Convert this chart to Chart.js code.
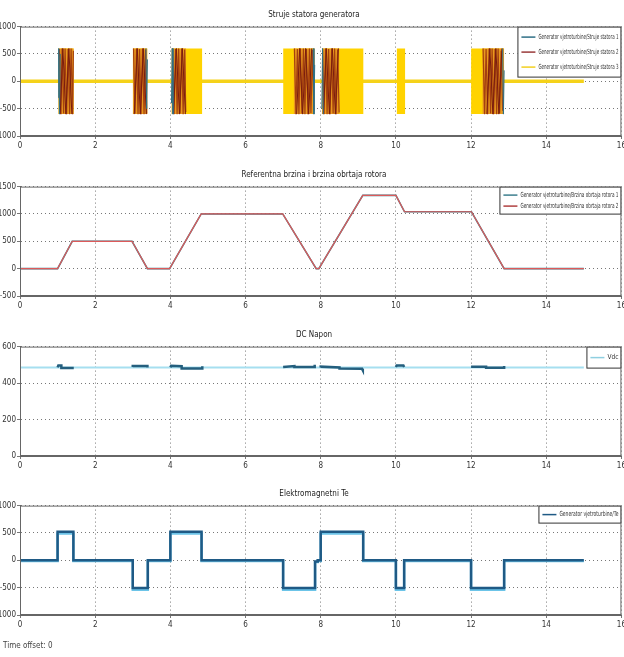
<!DOCTYPE html>
<html>
<head>
<meta charset="utf-8">
<script src="https://cdn.jsdelivr.net/npm/chart.js@4.4.1/dist/chart.umd.min.js"></script>
<style>
  html, body { margin: 0; background: #fff; overflow: hidden; }
  .panel { position: absolute; left: 0; width: 624px; height: 160px; overflow: hidden; }
  #offset { position: absolute; left: 3px; top: 641px; font: 8px 'Liberation Sans Narrow', 'DejaVu Sans Condensed', sans-serif; color: #444; }
</style>
</head>
<body>
<div class="panel" style="top:0px"><canvas id="c1" width="628" height="160"></canvas></div>
<div class="panel" style="top:160px"><canvas id="c2" width="628" height="160"></canvas></div>
<div class="panel" style="top:320px"><canvas id="c3" width="628" height="160"></canvas></div>
<div class="panel" style="top:479px"><canvas id="c4" width="628" height="160"></canvas></div>
<div id="offset">Time offset:  0</div>
<script>
// --- naslovi i legende
const titles = ['Struje statora generatora', 'Referentna brzina i brzina obrtaja rotora', 'DC Napon', 'Elektromagnetni Te'];
const statorLabels = ['Generator vjetroturbine/Struje statora 1', 'Generator vjetroturbine/Struje statora 2', 'Generator vjetroturbine/Struje statora 3'];
const speedLabels = ['Generator vjetroturbine/Brzina obrtaja rotora 1', 'Generator vjetroturbine/Brzina obrtaja rotora 2'];
const vdcLabel = 'Vdc';
const teLabel = 'Generator vjetroturbine/Te';

// --- 1. struje statora (intervali prelaza, [pocetak, kraj])
const burstRanges = [[1.02, 1.43], [3.0, 3.39], [4.03, 4.85], [7.0, 7.84], [8.03, 9.14], [10.02, 10.25], [12.0, 12.88]];
const orangeRanges = [[1.02, 1.43], [3.0, 3.39], [4.03, 4.42], [7.28, 7.84], [8.03, 8.5], [12.3, 12.88]];
const burstPeak = 600;
const baselineT = [0, 15];
const baselineV = [0, 0];
// faza 2 (smedje pruge)
const phase2 = [
  [[1.05, 590], [1.09, -600], [1.12, 600], [1.16, -590], [1.2, 600], [1.24, -600], [1.28, 590], [1.32, -600], [1.36, 600], [1.4, -600], [1.42, 560]],
  [[3.02, 600], [3.06, -590], [3.1, 600], [3.14, -600], [3.18, 590], [3.22, -600], [3.26, 600], [3.3, -600], [3.34, 580], [3.37, -590]],
  [[4.06, 600], [4.1, -600], [4.14, 590], [4.18, -600], [4.22, 600], [4.26, -590], [4.3, 600], [4.34, -600], [4.38, 580], [4.41, -560]],
  [[7.3, 600], [7.34, -600], [7.38, 590], [7.42, -600], [7.46, 600], [7.5, -590], [7.54, 600], [7.58, -600], [7.62, 590], [7.66, -600], [7.7, 600], [7.74, -580], [7.78, 570], [7.82, -540]],
  [[8.05, 560], [8.09, -600], [8.13, 600], [8.17, -600], [8.21, 590], [8.25, -600], [8.29, 600], [8.33, -590], [8.37, 600], [8.41, -600], [8.45, 580], [8.49, -570]],
  [[12.32, 600], [12.36, -600], [12.4, 590], [12.44, -600], [12.48, 600], [12.52, -590], [12.56, 600], [12.6, -600], [12.64, 590], [12.68, -600], [12.72, 600], [12.76, -580], [12.8, 560], [12.84, -540]]
];
// faza 2b (tamnocrvene pruge)
const phase2b = [
  [[1.07, -600], [1.14, 600], [1.22, -600], [1.3, 600], [1.38, -600]],
  [[3.04, -600], [3.12, 600], [3.2, -600], [3.28, 600], [3.36, -600]],
  [[4.08, -600], [4.16, 600], [4.24, -600], [4.32, 600], [4.4, -600]],
  [[7.36, -600], [7.44, 600], [7.52, -600], [7.6, 600], [7.68, -600], [7.76, 600]],
  [[8.07, -600], [8.15, 600], [8.23, -600], [8.31, 600], [8.39, -600], [8.47, 600]],
  [[12.42, -600], [12.5, 600], [12.58, -600], [12.66, 600], [12.74, -600], [12.82, 600]]
];
// faza 1 (plave ivice)
const phase1 = [
  [[1.02, -300], [1.03, 600], [1.05, -600], [1.07, 500]],
  [[3.35, 600], [3.37, -500], [3.39, 400]],
  [[4.03, -400], [4.05, 600], [4.07, -600]],
  [[7.8, 600], [7.82, -600], [7.84, 300]],
  [[8.03, -500], [8.05, 600], [8.07, -600]],
  [[12.84, 600], [12.86, -600], [12.88, 200]]
];

// --- 2. brzina
const speedT = [0, 1.0, 1.39, 2.98, 3.39, 3.98, 4.82, 6.99, 7.88, 7.95, 9.12, 10.0, 10.23, 12.01, 12.88, 15.0];
const speedRef = [0, 0, 500, 500, 0, 0, 1000, 1000, 0, 0, 1340, 1340, 1040, 1040, 0, 0];
const speedRotor = [0, 0, 500, 500, 0, 0, 1000, 1000, 0, 0, 1340, 1340, 1040, 1040, 0, 0];

// --- 3. DC napon
const vdcT = [0, 15];
const vdcV = [486, 486];
const vdcRipple = [
  [[1.0, 486], [1.02, 497], [1.1, 497], [1.1, 482], [1.43, 482]],
  [[3.0, 488], [3.0, 493], [3.39, 493], [3.39, 486]],
  [[4.0, 486], [4.02, 495], [4.3, 492], [4.3, 480], [4.85, 480], [4.85, 492]],
  [[7.0, 488], [7.3, 493], [7.3, 488], [7.84, 488], [7.84, 500]],
  [[8.0, 486], [8.0, 490], [8.5, 486], [8.5, 480], [9.1, 478], [9.12, 470]],
  [[10.0, 488], [10.02, 496], [10.2, 496], [10.22, 488]],
  [[12.0, 490], [12.4, 490], [12.4, 484], [12.88, 484], [12.88, 494]]
];

// --- 4. elektromagnetni moment
const teT = [0, 1.0, 1.42, 3.0, 3.4, 4.0, 4.83, 7.0, 7.85, 7.92, 8.0, 9.13, 10.0, 10.22, 12.0, 12.88, 15.0];
const teDark = [0, 520, 0, -505, 0, 520, 0, -505, -20, 0, 520, 0, -505, 0, -505, 0, 0];
const teLight = [-15, 490, -15, -540, -15, 490, -15, -540, -30, -15, 490, -15, -540, -15, -540, -15, -15];

const FONT = "'Liberation Sans Narrow', 'DejaVu Sans Condensed', 'Liberation Sans', sans-serif";
Chart.defaults.font.family = FONT;
Chart.defaults.font.size = 8;
Chart.defaults.color = '#333';

const xy = (t, v) => t.map((x, i) => ({ x, y: v[i] }));
const pieces = list => {
  const out = [];
  list.forEach((seg, k) => {
    if (k) out.push({ x: seg[0][0], y: null });
    seg.forEach(p => out.push({ x: p[0], y: p[1] }));
  });
  return out;
};
const boxes = (ranges, top) => pieces(ranges.map(r => [[r[0], top], [r[1], top]]));

// okvir + legenda u uglu
const frameLegend = {
  id: 'frameLegend',
  afterDatasetsDraw(chart, args, opts) {
    const a = chart.chartArea, ctx = chart.ctx;
    ctx.save();
    ctx.setLineDash([]);
    ctx.strokeStyle = '#666';
    ctx.lineWidth = 1;
    ctx.strokeRect(a.left + 0.5, a.top + 0.5, a.right - a.left - 1, a.bottom - a.top - 1);
    const items = chart.data.datasets.filter(d => d.label);
    if (items.length) {
      const w = opts.width, rowH = opts.rowH, h = items.length * rowH + 6;
      const x = a.right - w, y = a.top;
      ctx.fillStyle = '#fff';
      ctx.fillRect(x, y, w, h);
      ctx.strokeStyle = '#333';
      ctx.strokeRect(x + 0.5, y + 0.5, w - 1, h - 1);
      ctx.font = '7px ' + FONT;
      ctx.textBaseline = 'middle';
      items.forEach((d, i) => {
        const cy = y + 3 + rowH * (i + 0.5);
        ctx.strokeStyle = d.legendColor || d.borderColor;
        ctx.lineWidth = 1.5;
        ctx.beginPath();
        ctx.moveTo(x + 4, cy);
        ctx.lineTo(x + 18, cy);
        ctx.stroke();
        ctx.fillStyle = '#333';
        ctx.fillText(d.label, x + 21, cy, w - 24);
      });
    }
    ctx.restore();
  }
};

function makeChart(id, title, datasets, yMin, yMax, yStep, legend) {
  return new Chart(document.getElementById(id), {
    type: 'line',
    data: { datasets },
    options: {
      responsive: false,
      animation: false,
      devicePixelRatio: 1,
      layout: { padding: { right: 0 } },
      elements: { point: { radius: 0 }, line: { tension: 0 } },
      plugins: {
        legend: { display: false },
        tooltip: { enabled: false },
        title: { display: true, text: title, font: { size: 8, weight: 'normal' }, color: '#222', padding: { top: 10, bottom: 7 } },
        frameLegend: legend
      },
      scales: {
        x: {
          type: 'linear', min: 0, max: 16,
          ticks: { stepSize: 2, padding: 2, color: '#333', callback: v => String(v) },
          grid: { color: '#777', tickLength: 3 },
          border: { display: true, color: '#666', dash: [1, 3] },
          afterFit: s => { s.height = 24; }
        },
        y: {
          min: yMin, max: yMax,
          ticks: { stepSize: yStep, padding: 1, color: '#333', callback: v => String(v) },
          grid: { color: '#777', tickLength: 3 },
          border: { display: true, color: '#666', dash: [1, 3] },
          afterFit: s => { s.width = 20; }
        }
      }
    },
    plugins: [frameLegend]
  });
}

const thin = { pointRadius: 0, fill: false, spanGaps: false };

makeChart('c1', titles[0], [
  { ...thin, label: statorLabels[0], data: pieces(phase1), borderColor: '#2f6f86', borderWidth: 1, order: 0 },
  { ...thin, label: statorLabels[1], data: pieces(phase2), borderColor: '#a5400f', borderWidth: 1.2, legendColor: '#9a3a3a', order: 2 },
  { ...thin, label: statorLabels[2], data: xy(baselineT, baselineV), borderColor: '#f5d21a', borderWidth: 3.5, legendColor: '#f2d020', order: 6 },
  { ...thin, data: pieces(phase2b), borderColor: '#7a1c0e', borderWidth: 1, order: 1 },
  { pointRadius: 0, data: boxes(orangeRanges, burstPeak), borderWidth: 0, borderColor: 'rgba(0,0,0,0)', backgroundColor: '#e99a1e', fill: { value: -burstPeak }, spanGaps: false, order: 3 },
  { pointRadius: 0, data: boxes(burstRanges, burstPeak), borderWidth: 0, borderColor: 'rgba(0,0,0,0)', backgroundColor: '#ffd300', fill: { value: -burstPeak }, spanGaps: false, order: 4 }
], -1000, 1000, 500, { width: 104, rowH: 15 });

makeChart('c2', titles[1], [
  { ...thin, label: speedLabels[0], data: xy(speedT, speedRef), borderColor: '#3d7f8e', borderWidth: 1.6, order: 1 },
  { ...thin, label: speedLabels[1], data: xy(speedT, speedRotor), borderColor: '#dc5a5a', borderWidth: 1.2, legendColor: '#b04040', order: 0 }
], -500, 1500, 500, { width: 122, rowH: 11 });

makeChart('c3', titles[2], [
  { ...thin, label: vdcLabel, data: xy(vdcT, vdcV), borderColor: '#a6dff0', borderWidth: 2, legendColor: '#8fcfe0', order: 1 },
  { ...thin, data: pieces(vdcRipple), borderColor: '#245f7e', borderWidth: 2.5, order: 0 }
], 0, 600, 200, { width: 35, rowH: 16 });

makeChart('c4', titles[3], [
  { ...thin, label: teLabel, data: xy(teT, teDark), borderColor: '#1f5a85', borderWidth: 2.5, stepped: 'before', order: 0 },
  { ...thin, data: xy(teT, teLight), borderColor: '#6cc4e8', borderWidth: 2.5, stepped: 'before', order: 1 }
], -1000, 1000, 500, { width: 83, rowH: 12 });
</script>
</body>
</html>
